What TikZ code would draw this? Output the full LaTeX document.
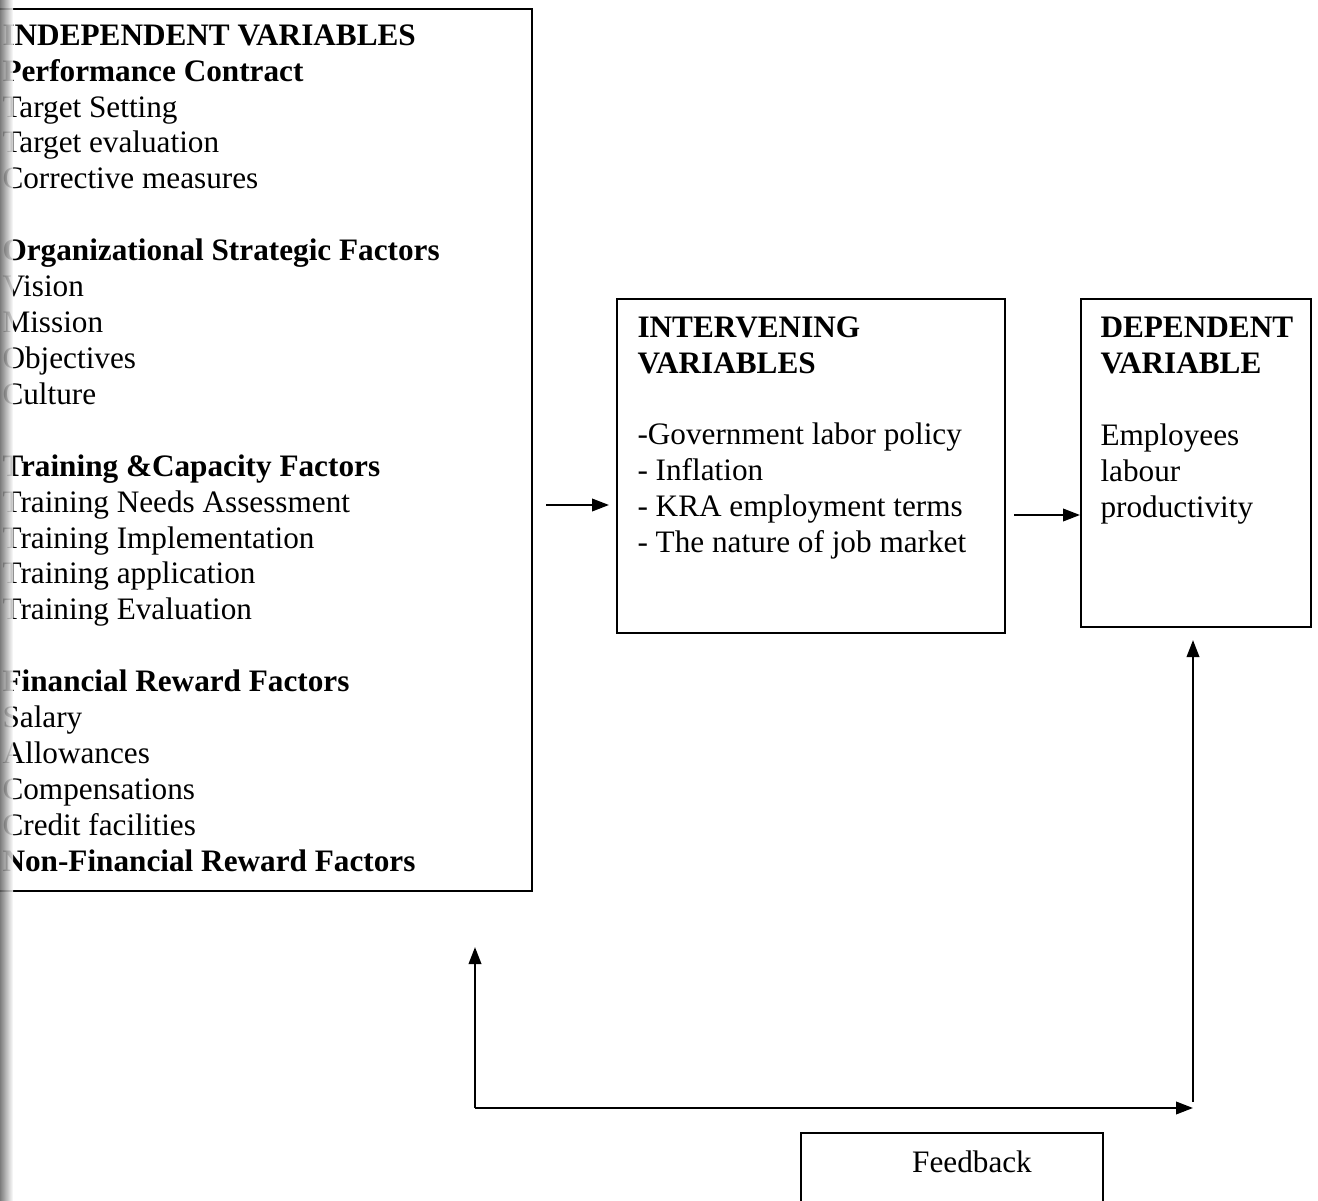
\documentclass[tikz,border=0pt]{standalone}
\usepackage{fontspec}
\setmainfont{Liberation Serif}
\usetikzlibrary{arrows.meta,positioning}

\def\unitpx{0.0135cm}
\tikzset{
    varbox/.style={draw, line width=0.8pt, inner sep=0pt, anchor=north west},
    vartext/.style={align=left, inner sep=0pt, anchor=north west, font=\fontsize{12}{13.8}\selectfont},
    flow/.style={line width=0.8pt, -{Triangle[length=6.5pt,width=4.8pt]}},
}

\begin{document}
\begin{tikzpicture}[x=\unitpx, y=-\unitpx]
    \useasboundingbox (0,0) rectangle (1318,1201);
    \fill[white] (0,0) rectangle (1318,1201);
    \clip (0,0) rectangle (1318,1201);

    % the four boxes
    \node[varbox, minimum width=551*\unitpx, minimum height=882*\unitpx] (indep) at (-20,8) {};
    \node[varbox, minimum width=388*\unitpx, minimum height=334*\unitpx] (interv) at (616,298) {};
    \node[varbox, minimum width=230*\unitpx, minimum height=328*\unitpx] (dep) at (1080,298) {};
    \node[varbox, minimum width=302*\unitpx, minimum height=120*\unitpx] (fbbox) at (800,1132) {};

    % texts
    \node[vartext] (indeptext) at (2,24) {%
        \textbf{INDEPENDENT VARIABLES}\\
        \textbf{Performance Contract}\\
        Target Setting\\
        Target evaluation\\
        Corrective measures\\[13.8pt]
        \textbf{Organizational Strategic Factors}\\
        Vision\\
        Mission\\
        Objectives\\
        Culture\\[13.8pt]
        \textbf{Training \&Capacity Factors}\\
        Training Needs Assessment\\
        Training Implementation\\
        Training application\\
        Training Evaluation\\[13.8pt]
        \textbf{Financial Reward Factors}\\
        Salary\\
        Allowances\\
        Compensations\\
        Credit facilities\\
        \textbf{Non-Financial Reward Factors}};
    \node[vartext] (intervtext) at (637,316) {%
        \textbf{INTERVENING}\\
        \textbf{VARIABLES}\\[13.8pt]
        -Government labor policy\\
        - Inflation\\
        - KRA employment terms\\
        - The nature of job market};
    \node[vartext] (deptext) at (1100,317) {%
        \textbf{DEPENDENT}\\
        \textbf{VARIABLE}\\[13.8pt]
        Employees\\
        labour\\
        productivity};
    \node[font=\fontsize{12}{13.8}\selectfont, inner sep=0pt] (fb) at (972,1162) {Feedback};

    % arrows
    \coordinate (inA) at (546,505);
    \coordinate (fbL) at (475,1108);
    \coordinate (fbR) at (1193,1108);
    \draw[flow, shorten >=7*\unitpx] (inA) -- (interv.west |- inA);
    \draw[flow, shorten <=8*\unitpx] (interv.east |- 0,515) -- (dep.west |- 0,515);
    \draw[flow, shorten >=55*\unitpx] (fbL) -- (fbL |- indep.south);
    \draw[flow] (fbL) -- (fbR);
    \draw[flow, shorten <=6*\unitpx, shorten >=12*\unitpx] (fbR) -- (fbR |- dep.south);

    % scanned page edge
    \shade[left color=black!60, right color=white, fill opacity=0.85] (0,0) rectangle (13,1201);
\end{tikzpicture}
\end{document}
